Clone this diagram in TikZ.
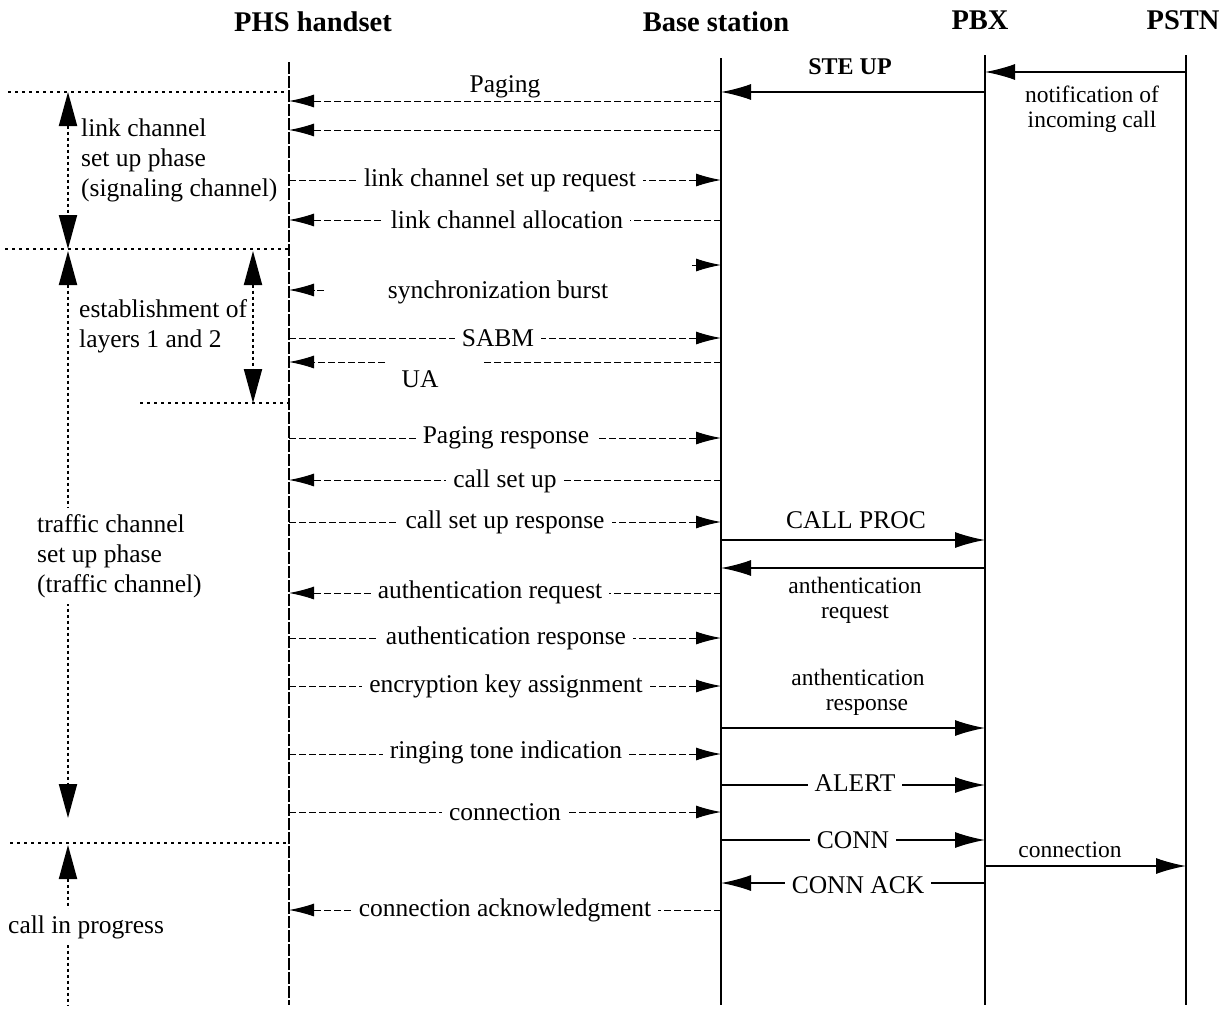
\documentclass[tikz,border=0pt]{standalone}
\usepackage{fontspec}
\setmainfont{Liberation Serif}
\usetikzlibrary{arrows.meta}

\begin{document}
\begin{tikzpicture}[x=1pt,y=-1pt,
  lbl/.style={font=\fontsize{25.5}{30}\selectfont, inner sep=1pt},
  lblw/.style={lbl, fill=white, inner xsep=7pt},
  note/.style={font=\fontsize{23.5}{25}\selectfont, align=center, inner sep=1pt},
  head/.style={font=\bfseries\fontsize{28.5}{30}\selectfont, inner sep=1pt},
  life/.style={line width=2.8pt},
  phsline/.style={line width=2.2pt, dash pattern=on 12pt off 2pt},
  dmsg/.style={line width=1pt, dash pattern=on 7pt off 3pt, -{Latex[length=25pt,width=13pt]}},
  dline/.style={line width=1pt, dash pattern=on 7pt off 3pt},
  smsg/.style={line width=1.5pt, -{Latex[length=30pt,width=16pt]}},
  guide/.style={line width=1.5pt, dash pattern=on 3pt off 4pt},
  span/.style={line width=2pt, dash pattern=on 3pt off 3pt},
  bigtip/.tip={Triangle[length=34pt,width=18pt]},
]
\useasboundingbox (0,0) rectangle (1225,1009);

% column headings
\node[head] (phs)  at (313,22) {PHS handset};
\node[head] (bs)   at (716,22) {Base station};
\node[head] (pbx)  at (980,20) {PBX};
\node[head] (pstn) at (1183,20) {PSTN};

% lifelines
\coordinate (P)  at (289,62);   \coordinate (Pe) at (289,1005);
\coordinate (B)  at (721,58);   \coordinate (Be) at (721,1005);
\coordinate (X)  at (985,55);   \coordinate (Xe) at (985,1005);
\coordinate (N)  at (1186,55);  \coordinate (Ne) at (1186,1005);
\draw[phsline] (P) -- (Pe);
\draw[life] (B) -- (Be);
\draw[life] (X) -- (Xe);
\draw[life] (N) -- (Ne);

% phase separators
\coordinate (s1) at (8,92);    \coordinate (s2) at (5,249);
\coordinate (s3) at (140,403); \coordinate (s4) at (10,843);
\draw[guide] (s1) -- (P |- s1);
\draw[guide] (s2) -- (P |- s2);
\draw[guide] (s3) -- (P |- s3);
\draw[guide] (s4) -- (P |- s4);

% phase spans
\coordinate (v1) at (68,92);  \coordinate (v2) at (68,249);
\coordinate (v3) at (68,251); \coordinate (v4) at (68,818);
\coordinate (v5) at (68,845); \coordinate (v6) at (68,1005);
\coordinate (w1) at (253,251); \coordinate (w2) at (253,403);
\draw[span, bigtip-bigtip] (v1) -- (v2);
\draw[span, bigtip-bigtip] (v3) -- (v4);
\draw[span, bigtip-] (v5) -- (v6);
\draw[span, bigtip-bigtip] (w1) -- (w2);

\node[lbl, align=left, anchor=west] (ph1) at (80,160) {link channel\\set up phase\\(signaling channel)};
\node[lbl, align=left, anchor=west] (ph2) at (78,326) {establishment of\\layers 1 and 2};
\node[lbl, align=left, anchor=west, fill=white, inner ysep=6pt] (ph3) at (36,556) {traffic channel\\set up phase\\(traffic channel)};
\node[lbl, anchor=west, fill=white, inner ysep=6pt] (ph4) at (7,927) {call in progress};

% PSTN / PBX side
\draw[smsg] (N |- 0,72) -- (X |- 0,72);
\node[note] (m0) at (1092,109) {notification of\\incoming call};
\draw[smsg] (X |- 0,92) -- (B |- 0,92);
\node[lbl, font=\bfseries\fontsize{24}{28}\selectfont] (m1) at (850,67) {STE UP};

% link channel set up
\draw[dmsg] (B |- 0,101) -- (P |- 0,101);
\node[lbl] (m2) at (505,87) {Paging};
\draw[dmsg] (B |- 0,130) -- (P |- 0,130);
\draw[dmsg] (P |- 0,180) -- (B |- 0,180);
\node[lblw] (m3) at (500,180) {link channel set up request};
\draw[dmsg] (B |- 0,220) -- (P |- 0,220);
\node[lblw] (m4) at (507,220) {link channel allocation};

% layers 1 and 2
\coordinate (sy1) at (692,265);
\draw[dmsg] (sy1) -- (B |- sy1);
\coordinate (sy2) at (324,290);
\draw[dmsg] (sy2) -- (P |- sy2);
\node[lbl] (m5) at (498,292) {synchronization burst};
\draw[dmsg] (P |- 0,338) -- (B |- 0,338);
\node[lblw] (m6) at (498,338) {SABM};
\coordinate (ua1) at (482,362); \coordinate (ua2) at (385,362);
\draw[dline] (B |- ua1) -- (ua1);
\draw[dmsg] (ua2) -- (P |- ua2);
\node[lbl] (m7) at (420,379) {UA};

% traffic channel set up
\draw[dmsg] (P |- 0,438) -- (B |- 0,438);
\node[lblw] (m8) at (506,438) {Paging response};
\draw[dmsg] (B |- 0,480) -- (P |- 0,480);
\node[lblw] (m9) at (505,481) {call set up};
\draw[dmsg] (P |- 0,522) -- (B |- 0,522);
\node[lblw] (m10) at (505,522) {call set up response};
\draw[smsg] (B |- 0,540) -- (X |- 0,540);
\node[lbl] (m11) at (856,520) {CALL PROC};
\draw[smsg] (X |- 0,568) -- (B |- 0,568);
\node[note] (m12) at (855,600) {anthentication\\request};
\draw[dmsg] (B |- 0,593) -- (P |- 0,593);
\node[lblw] (m13) at (490,592) {authentication request};
\draw[dmsg] (P |- 0,638) -- (B |- 0,638);
\node[lblw] (m14) at (506,638) {authentication response};
\draw[dmsg] (P |- 0,686) -- (B |- 0,686);
\node[lblw] (m15) at (506,686) {encryption key assignment};
\node[note] (m16) at (858,692) {anthentication\\\hspace*{18pt}response};
\draw[smsg] (B |- 0,728) -- (X |- 0,728);
\draw[dmsg] (P |- 0,754) -- (B |- 0,754);
\node[lblw] (m17) at (506,752) {ringing tone indication};
\draw[smsg] (B |- 0,785) -- (X |- 0,785);
\node[lblw] (m18) at (855,783) {ALERT};
\draw[dmsg] (P |- 0,812) -- (B |- 0,812);
\node[lblw] (m19) at (505,812) {connection};

% call in progress
\draw[smsg] (B |- 0,840) -- (X |- 0,840);
\node[lblw] (m20) at (853,840) {CONN};
\draw[smsg] (X |- 0,866) -- (N |- 0,866);
\node[note] (m21) at (1070,850) {connection};
\draw[smsg] (X |- 0,883) -- (B |- 0,883);
\node[lblw] (m22) at (858,885) {CONN ACK};
\draw[dmsg] (B |- 0,910) -- (P |- 0,910);
\node[lblw] (m23) at (505,910) {connection acknowledgment};
\end{tikzpicture}
\end{document}
